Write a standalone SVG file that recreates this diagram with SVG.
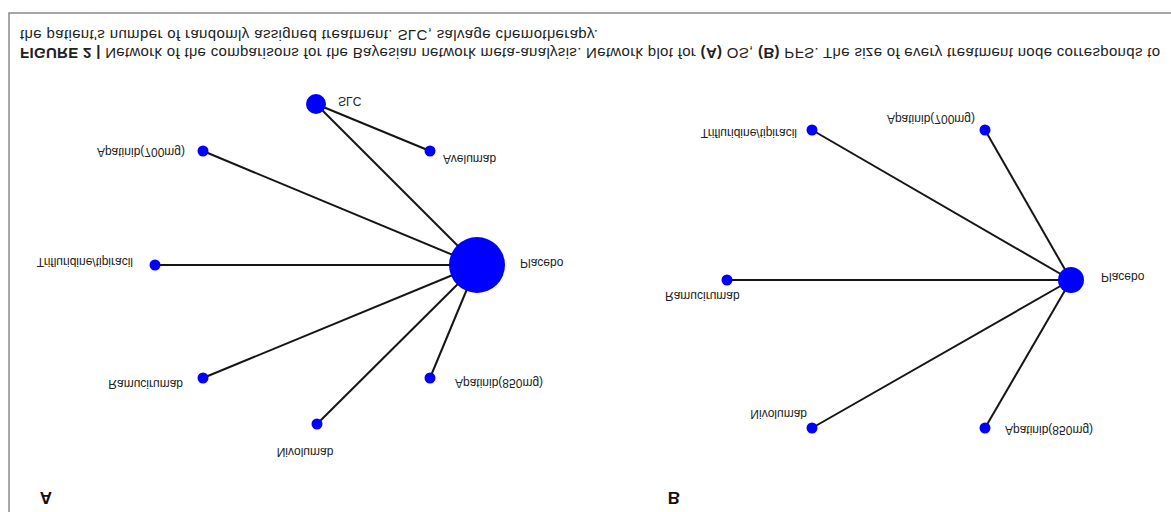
<svg xmlns="http://www.w3.org/2000/svg" width="1171" height="512" viewBox="0 0 1171 512">
<style>
text{font-family:"Liberation Sans",Arial,sans-serif;fill:#222}
.cap{font-size:15px}
.lbl{font-size:12px}
.pl{font-size:17px;font-weight:bold;fill:#111}
.e{stroke:#151515;stroke-width:2;fill:none}
.n{fill:#0000ff}
.frame{stroke:#8a8a8a;stroke-width:1.5;fill:none}
</style>
<rect width="1171" height="512" fill="#fff"/>
<path class="frame" d="M9,512 V13 H1171"/>
<g id="caption">
<text class="cap" transform="translate(20,30) scale(1,-1)" textLength="578" lengthAdjust="spacing">the patient's number of randomly assigned treatment. SLC, salvage chemotherapy.</text>
<text class="cap" transform="translate(20,48) scale(1,-1)" textLength="1140" lengthAdjust="spacing"><tspan font-weight="bold">FIGURE 2 |</tspan> Network of the comparisons for the Bayesian network meta-analysis. Network plot for <tspan font-weight="bold">(A)</tspan> OS, <tspan font-weight="bold">(B)</tspan> PFS. The size of every treatment node corresponds to</text>
</g>
<g id="connectors">
<line class="e" x1="316" y1="104" x2="430" y2="151"/>
<line class="e" x1="316" y1="104" x2="477" y2="265"/>
<line class="e" x1="203" y1="151" x2="477" y2="265"/>
<line class="e" x1="155" y1="265" x2="477" y2="265"/>
<line class="e" x1="203" y1="378" x2="477" y2="265"/>
<line class="e" x1="317" y1="424" x2="477" y2="265"/>
<line class="e" x1="430" y1="378" x2="477" y2="265"/>
<line class="e" x1="812" y1="130" x2="1071" y2="280"/>
<line class="e" x1="985" y1="130" x2="1071" y2="280"/>
<line class="e" x1="727" y1="280" x2="1071" y2="280"/>
<line class="e" x1="812" y1="428" x2="1071" y2="280"/>
<line class="e" x1="985" y1="428" x2="1071" y2="280"/>
</g>
<g id="panelA">
<g id="A-SLC"><circle class="n" cx="316" cy="104" r="10"/><text class="lbl" transform="translate(338,97) scale(1,-1)">SLC</text></g>
<g id="A-Avelumab"><circle class="n" cx="430" cy="151" r="5.5"/><text class="lbl" transform="translate(443,155) scale(1,-1)">Avelumab</text></g>
<g id="A-Apatinib700"><circle class="n" cx="203" cy="151" r="5.5"/><text class="lbl" text-anchor="end" transform="translate(185,148) scale(1,-1)">Apatinib(700mg)</text></g>
<g id="A-Trifluridine"><circle class="n" cx="155" cy="265" r="5.5"/><text class="lbl" text-anchor="end" transform="translate(133,258) scale(1,-1)">Trifluridine/tipiracil</text></g>
<g id="A-Placebo"><circle class="n" cx="477" cy="265" r="28"/><text class="lbl" transform="translate(520,259) scale(1,-1)">Placebo</text></g>
<g id="A-Ramucirumab"><circle class="n" cx="203" cy="378" r="5.5"/><text class="lbl" text-anchor="end" transform="translate(183,380) scale(1,-1)">Ramucirumab</text></g>
<g id="A-Nivolumab"><circle class="n" cx="317" cy="424" r="5.5"/><text class="lbl" text-anchor="middle" transform="translate(305,448) scale(1,-1)">Nivolumab</text></g>
<g id="A-Apatinib850"><circle class="n" cx="430" cy="378" r="5.5"/><text class="lbl" transform="translate(455,379) scale(1,-1)">Apatinib(850mg)</text></g>
<text class="pl" text-anchor="middle" transform="translate(46,492) scale(1,-1)">A</text>
</g>
<g id="panelB">
<g id="B-Trifluridine"><circle class="n" cx="812" cy="130" r="5.5"/><text class="lbl" text-anchor="end" transform="translate(797,129) scale(1,-1)">Trifluridine/tipiracil</text></g>
<g id="B-Apatinib700"><circle class="n" cx="985" cy="130" r="5.5"/><text class="lbl" text-anchor="end" transform="translate(975,115) scale(1,-1)">Apatinib(700mg)</text></g>
<g id="B-Ramucirumab"><circle class="n" cx="727" cy="280" r="5.5"/><text class="lbl" transform="translate(665,292) scale(1,-1)">Ramucirumab</text></g>
<g id="B-Placebo"><circle class="n" cx="1071" cy="280" r="13"/><text class="lbl" transform="translate(1101,273) scale(1,-1)">Placebo</text></g>
<g id="B-Nivolumab"><circle class="n" cx="812" cy="428" r="5.5"/><text class="lbl" text-anchor="end" transform="translate(807,410) scale(1,-1)">Nivolumab</text></g>
<g id="B-Apatinib850"><circle class="n" cx="985" cy="428" r="5.5"/><text class="lbl" transform="translate(1005,426) scale(1,-1)">Apatinib(850mg)</text></g>
<text class="pl" text-anchor="middle" transform="translate(674,492) scale(1,-1)">B</text>
</g>
</svg>
